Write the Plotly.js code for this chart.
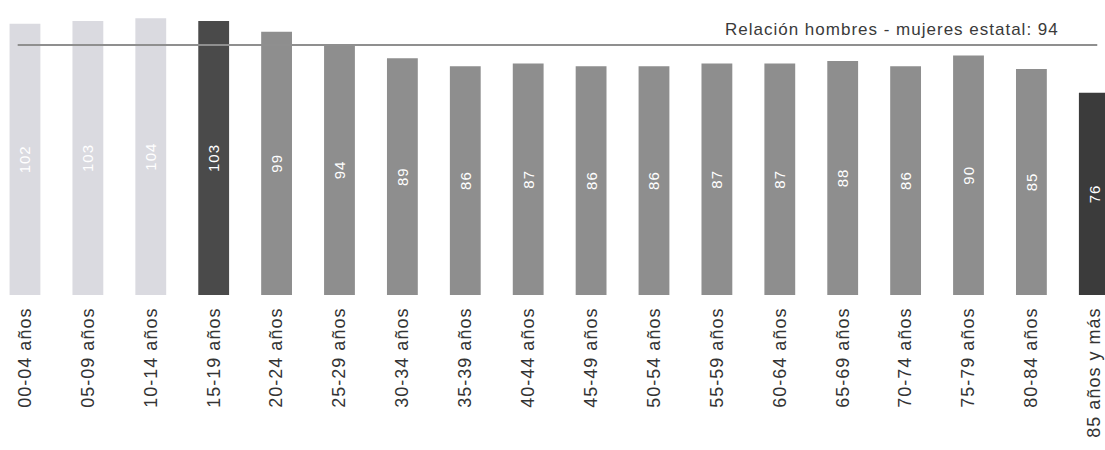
<!DOCTYPE html>
<html>
<head>
<meta charset="utf-8">
<script src="https://cdn.plot.ly/plotly-3.0.1.min.js"></script>
<style>
  html, body { margin: 0; padding: 0; background: #ffffff; }
  #chart { width: 1105px; height: 450px; }
  svg text { letter-spacing: 1px; }
</style>
</head>
<body>
<div id="chart"></div>
<script>
// Categories (age groups)
const categories = [
  "00-04 años", "05-09 años", "10-14 años", "15-19 años", "20-24 años",
  "25-29 años", "30-34 años", "35-39 años", "40-44 años", "45-49 años",
  "50-54 años", "55-59 años", "60-64 años", "65-69 años", "70-74 años",
  "75-79 años", "80-84 años", "85 años y más"
];
// Men per 100 women by age group
const ratios = [102, 103, 104, 103, 99, 94, 89, 86, 87, 86, 86, 87, 87, 88, 86, 90, 85, 76];
// State-level ratio
const stateRatio = 94;
const stateLabel = "Relación hombres - mujeres estatal: 94";

const light = "#dadae0", mid = "#8e8e8e", dark1 = "#4a4a4a", dark2 = "#3b3b3b";
const barColors = categories.map((c, i) => {
  if (i < 3) return light;
  if (i === 3) return dark1;
  if (i === categories.length - 1) return dark2;
  return mid;
});

const trace = {
  type: "bar",
  x: categories,
  y: ratios,
  width: 0.49,
  marker: { color: barColors, line: { width: 0 } },
  text: ratios.map(String),
  textposition: "inside",
  insidetextanchor: "middle",
  textangle: -90,
  constraintext: "none",
  textfont: { family: "Liberation Sans, Arial, sans-serif", size: 15, color: "#ffffff" },
  hoverinfo: "x+y"
};

const layout = {
  width: 1105,
  height: 450,
  margin: { l: 0, r: 0, t: 0, b: 155, pad: 0 },
  paper_bgcolor: "#ffffff",
  plot_bgcolor: "#ffffff",
  showlegend: false,
  bargap: 0.5,
  xaxis: {
    type: "category",
    range: [-0.397, 17.17],
    tickangle: -90,
    ticklabelstandoff: 8,
    showgrid: false,
    zeroline: false,
    showline: false,
    ticks: "",
    tickfont: { family: "Liberation Sans, Arial, sans-serif", size: 18, color: "#333333" },
    automargin: false,
    fixedrange: true
  },
  yaxis: {
    range: [0, 110.9],
    visible: false,
    showgrid: false,
    zeroline: false,
    fixedrange: true
  },
  shapes: [{
    type: "line",
    xref: "paper", yref: "y",
    x0: 0.016, x1: 0.993,
    y0: stateRatio, y1: stateRatio,
    line: { color: "#8f8f8f", width: 2 },
    layer: "above"
  }],
  annotations: [{
    xref: "paper", yref: "y",
    x: 0.96, y: stateRatio,
    xanchor: "right", yanchor: "bottom",
    yshift: 4,
    text: stateLabel,
    showarrow: false,
    font: { family: "Liberation Sans, Arial, sans-serif", size: 17, color: "#3a3a3a" }
  }]
};

Plotly.newPlot("chart", [trace], layout, { displayModeBar: false, staticPlot: true });
</script>
</body>
</html>
